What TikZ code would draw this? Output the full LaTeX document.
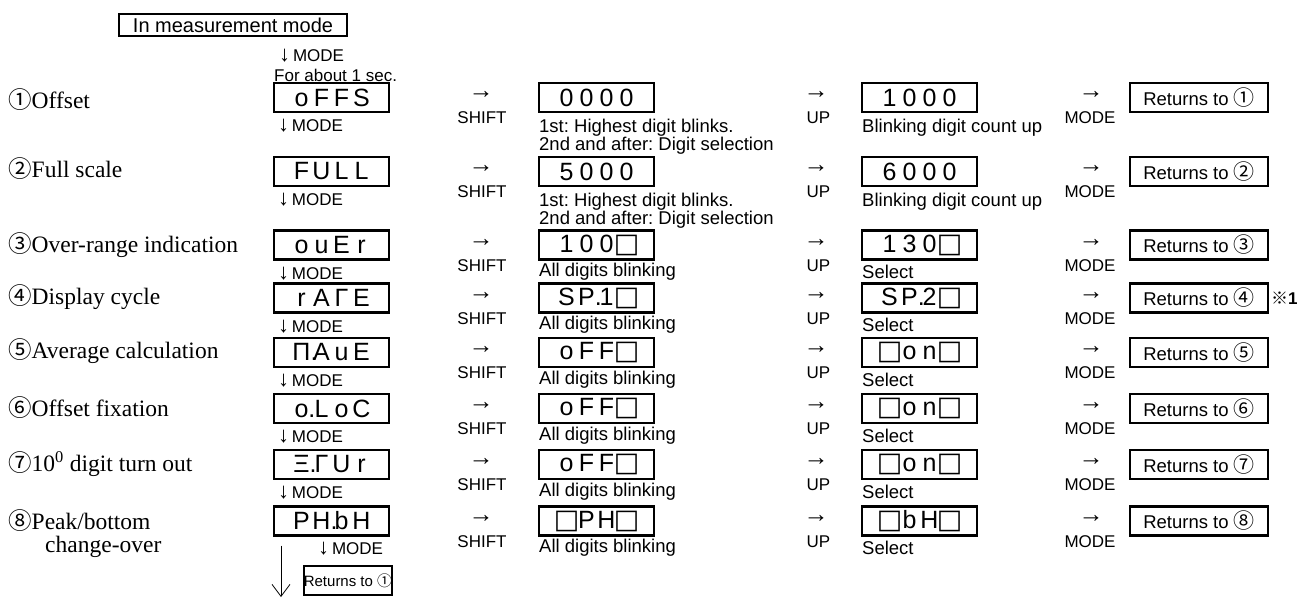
\documentclass[tikz,border=0pt]{standalone}
\usepackage{fontspec}
\setmainfont{Liberation Serif}
\setsansfont{Liberation Sans}
\newfontfamily\cjkfont{Noto Sans CJK JP}
\newfontfamily\symfont{DejaVu Sans}
\usetikzlibrary{arrows.meta}
\frenchspacing

\newcommand{\circnum}[1]{{\cjkfont\ifcase#1\or ①\or ②\or ③\or ④\or ⑤\or ⑥\or ⑦\or ⑧\fi}}
\newcommand{\sq}{{\symfont\fontsize{27}{27}\selectfont □}}
\newcommand{\withdot}[1]{#1\rlap{.}}
\newcommand{\seg}[4]{\makebox[20pt]{#1}\makebox[20pt]{#2}\makebox[20pt]{#3}\makebox[20pt]{#4}}
\newcommand{\dn}{{\fontsize{22}{17}\selectfont ↓}}
\tikzset{x=1pt, y=-1pt, every node/.append style={inner sep=0pt},
    lcd/.style={draw, line width=2.2pt, minimum width=115pt, minimum height=29pt,
        font=\sffamily\fontsize{25}{25}\selectfont},
    retbox/.style={draw, line width=2.2pt, minimum width=138pt, minimum height=29pt,
        font=\sffamily\fontsize{18.5}{18}\selectfont},
    item/.style={anchor=west, font=\fontsize{23.5}{27}\selectfont},
    key/.style={font=\sffamily\fontsize{17}{17}\selectfont},
    arr/.style={font=\sffamily\fontsize{25}{17}\selectfont},
    note/.style={anchor=west, font=\sffamily\fontsize{18.5}{18}\selectfont}}

\begin{document}
\begin{tikzpicture}
    \useasboundingbox (0,0) rectangle (1297,598);
    % start of the setting sequence
    \node[draw, line width=2.2pt, minimum width=228pt, minimum height=22pt,
        font=\sffamily\fontsize{20}{20}\selectfont] (start) at (233,25) {In measurement mode};
    \node[key, anchor=west] (go) at (279,56) {\dn\,MODE};
    \node[key, anchor=west] (hold) at (274,75) {For about 1 sec.};

    % item names
    \node[item] (l1) at (8,100) {\circnum1Offset};
    \node[item] (l2) at (8,169) {\circnum2Full scale};
    \node[item] (l3) at (8,245) {\circnum3Over-range indication};
    \node[item] (l4) at (8,297) {\circnum4Display cycle};
    \node[item] (l5) at (8,351) {\circnum5Average calculation};
    \node[item] (l6) at (8,408) {\circnum6Offset fixation};
    \node[item] (l7) at (8,464) {\circnum7{}10\textsuperscript{0} digit turn out};
    \node[item] (l8) at (8,521) {\circnum8Peak/bottom};
    \node[item] (l8b) at (45,547) {change-over};

    % mode displays
    \node[lcd] (m1) at (331.5,97.5) {\seg oFFS};
    \node[lcd] (m2) at (331.5,171.5) {\seg FULL};
    \node[lcd] (m3) at (331.5,245) {\seg ouEr};
    \node[lcd] (m4) at (331.5,298) {\seg rAΓE};
    \node[lcd] (m5) at (331.5,352.5) {\seg{\withdot{Π}}AuE};
    \node[lcd] (m6) at (331.5,408.5) {\seg{\withdot{o}}LoC};
    \node[lcd] (m7) at (331.5,464.5) {\seg{\withdot{Ξ}}ΓUr};
    \node[lcd] (m8) at (331.5,521) {\seg P{\withdot{H}}bH};
    \foreach \n in {1,...,7}
        \node[key, anchor=west] (dn\n) at ([xshift=5pt, yshift=-13pt]m\n.south west) {\dn\,MODE};

    % after SHIFT
    \node[lcd] (s1) at (596.5,97.5) {\seg 0000};
    \node[lcd] (s2) at (596.5,171.5) {\seg 5000};
    \node[lcd] (s3) at (596.5,245) {\seg 100\sq};
    \node[lcd] (s4) at (596.5,298) {\seg S{\withdot{P}}1\sq};
    \node[lcd] (s5) at (596.5,352.5) {\seg oFF\sq};
    \node[lcd] (s6) at (596.5,408.5) {\seg oFF\sq};
    \node[lcd] (s7) at (596.5,464.5) {\seg oFF\sq};
    \node[lcd] (s8) at (596.5,521) {\seg\sq PH\sq};

    % after UP
    \node[lcd] (u1) at (919.5,97.5) {\seg 1000};
    \node[lcd] (u2) at (919.5,171.5) {\seg 6000};
    \node[lcd] (u3) at (919.5,245) {\seg 130\sq};
    \node[lcd] (u4) at (919.5,298) {\seg S{\withdot{P}}2\sq};
    \node[lcd] (u5) at (919.5,352.5) {\seg\sq on\sq};
    \node[lcd] (u6) at (919.5,408.5) {\seg\sq on\sq};
    \node[lcd] (u7) at (919.5,464.5) {\seg\sq on\sq};
    \node[lcd] (u8) at (919.5,521) {\seg\sq bH\sq};

    % notes under the displays
    \node[note] (n1a) at (539,128) {1st: Highest digit blinks.};
    \node[note] (n1b) at (539,146) {2nd and after: Digit selection};
    \node[note] (n2a) at (539,202) {1st: Highest digit blinks.};
    \node[note] (n2b) at (539,220) {2nd and after: Digit selection};
    \node[note] (c1) at (862,128) {Blinking digit count up};
    \node[note] (c2) at (862,202) {Blinking digit count up};
    \foreach \n/\y in {3/245,4/298,5/352.5,6/408.5,7/464.5,8/521} {
        \node[note] (n\n) at (539,\y+27) {All digits blinking};
        \node[note] (c\n) at (862,\y+27) {Select};
    }

    % keys and returns
    \foreach \n/\y in {1/97.5,2/171.5,3/245,4/298,5/352.5,6/408.5,7/464.5,8/521} {
        \node[arr] (sa\n) at (481,\y-2.5) {→};
        \node[key] (sk\n) at (482,\y+20.5) {SHIFT};
        \node[arr] (ua\n) at (816,\y-2.5) {→};
        \node[key] (uk\n) at (818.5,\y+20.5) {UP};
        \node[arr] (ma\n) at (1091,\y-2.5) {→};
        \node[key] (mk\n) at (1090,\y+20.5) {MODE};
        \node[retbox] (r\n) at (1199,\y) {Returns to {\fontsize{21}{20}\selectfont\circnum{\n}}};
    }
    \node[anchor=west, font=\fontsize{17}{17}\selectfont] (ref1) at (1271,298)
        {{\cjkfont\bfseries ※}\textbf{\sffamily 1}};

    % back to the first item
    \node[key, anchor=west] (dn8) at (318,549) {\dn\,MODE};
    \node[draw, line width=2.2pt, minimum width=80pt, minimum height=29pt,
        font=\sffamily\fontsize{15}{15}\selectfont] (back) at (348,580.5) {Returns to \circnum1};
    \coordinate (loop) at (281,597);
    \draw[line width=0.8pt, -{Straight Barb[length=12pt, width=18pt]}]
        ([yshift=-9pt]m8.south -| loop) -- (loop);
\end{tikzpicture}
\end{document}
